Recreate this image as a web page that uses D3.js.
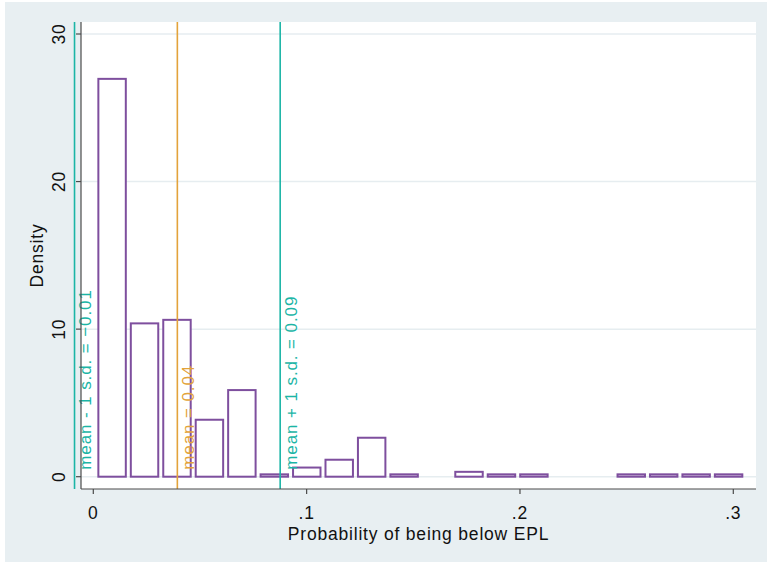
<!DOCTYPE html>
<html>
<head>
<meta charset="utf-8">
<script src="https://cdn.jsdelivr.net/npm/d3@7"></script>
<style>
  html, body { margin: 0; padding: 0; background: #fff; }
  svg text { font-family: "Liberation Sans", Arial, Helvetica, sans-serif; }
</style>
</head>
<body>
<div id="chart"></div>
<script>
// Histogram of the probability of being below EPL (density scale)
const binStart = 0.0012;
const binWidth = 0.01521;
const densities = [26.96, 10.39, 10.63, 3.86, 5.87, 0.16, 0.62, 1.15, 2.64, 0.16,
                   0, 0.33, 0.16, 0.16, 0, 0, 0.16, 0.16, 0.16, 0.16];
const xTicks = [0, 0.1, 0.2, 0.3];
const xTickLabels = ["0", ".1", ".2", ".3"];
const yTicks = [0, 10, 20, 30];
const meanValue = 0.0394;
const sdValue = 0.0482;

const W = 767, H = 562;
const plot = { left: 81, right: 756, top: 22, bottom: 489 };
const purple = "#7e4f9e", orange = "#e3a33a", teal = "#1cb5a6";

const svg = d3.select("#chart").append("svg")
  .attr("width", W).attr("height", H);

// outer graph region and white plot region
svg.append("rect").attr("x", 5).attr("y", 2).attr("width", W - 5).attr("height", H - 2)
  .attr("fill", "#e8eff2");
svg.append("rect").attr("x", plot.left).attr("y", plot.top)
  .attr("width", plot.right - plot.left).attr("height", plot.bottom - plot.top)
  .attr("fill", "#ffffff");

const x = d3.scaleLinear().domain([0, 0.3]).range([93.3, 733.3]);
const y = d3.scaleLinear().domain([0, 30]).range([476.7, 34]);

// horizontal grid
svg.append("g").selectAll("line").data(yTicks).join("line")
  .attr("x1", plot.left).attr("x2", plot.right)
  .attr("y1", d => y(d)).attr("y2", d => y(d))
  .attr("stroke", "#e6edf0").attr("stroke-width", 1.5);

// bars
const bins = densities.map((d, i) => ({ x0: binStart + i * binWidth, x1: binStart + (i + 1) * binWidth, d }));
const inset = 2.5;
svg.append("g").selectAll("rect").data(bins.filter(b => b.d > 0)).join("rect")
  .attr("x", b => x(b.x0) + inset)
  .attr("width", b => x(b.x1) - x(b.x0) - 2 * inset)
  .attr("y", b => y(b.d))
  .attr("height", b => y(0) - y(b.d))
  .attr("fill", "#ffffff")
  .attr("stroke", purple).attr("stroke-width", 2);

// reference lines: mean and mean +/- 1 s.d.
const fmt = d3.format(".2f");
const refs = [
  { v: meanValue - sdValue, label: "mean - 1 s.d. = " + fmt(meanValue - sdValue), color: teal },
  { v: meanValue, label: "mean = " + fmt(meanValue), color: orange },
  { v: meanValue + sdValue, label: "mean + 1 s.d. = " + fmt(meanValue + sdValue), color: teal }
];
svg.append("g").selectAll("line").data(refs).join("line")
  .attr("x1", r => x(r.v)).attr("x2", r => x(r.v))
  .attr("y1", plot.top).attr("y2", plot.bottom)
  .attr("stroke", r => r.color).attr("stroke-width", 1.6);
svg.append("g").selectAll("text").data(refs).join("text")
  .attr("transform", r => `translate(${x(r.v) + 16.5},${y(0) - 7}) rotate(-90)`)
  .attr("font-size", 17).attr("letter-spacing", 0.9)
  .attr("fill", r => r.color)
  .text(r => r.label);

// axes
const axisColor = "#4a4a4a";
svg.append("line").attr("x1", plot.left).attr("x2", plot.left)
  .attr("y1", plot.top).attr("y2", plot.bottom).attr("stroke", axisColor).attr("stroke-width", 1.2);
svg.append("line").attr("x1", plot.left).attr("x2", plot.right)
  .attr("y1", plot.bottom).attr("y2", plot.bottom).attr("stroke", axisColor).attr("stroke-width", 1.2);

const yAxis = svg.append("g");
yAxis.selectAll("line").data(yTicks).join("line")
  .attr("x1", plot.left - 5).attr("x2", plot.left)
  .attr("y1", d => y(d)).attr("y2", d => y(d))
  .attr("stroke", axisColor).attr("stroke-width", 1.2);
yAxis.selectAll("text").data(yTicks).join("text")
  .attr("transform", d => `translate(64.5,${y(d)}) rotate(-90)`)
  .attr("text-anchor", "middle").attr("font-size", 17.5).attr("letter-spacing", 0.8)
  .attr("fill", "#111").text(d => d);

const xAxis = svg.append("g");
xAxis.selectAll("line").data(xTicks).join("line")
  .attr("x1", d => x(d)).attr("x2", d => x(d))
  .attr("y1", plot.bottom).attr("y2", plot.bottom + 5)
  .attr("stroke", axisColor).attr("stroke-width", 1.2);
xAxis.selectAll("text").data(xTicks).join("text")
  .attr("x", d => x(d)).attr("y", 518.5)
  .attr("text-anchor", "middle").attr("font-size", 17.5).attr("letter-spacing", 0.8)
  .attr("fill", "#111").text((d, i) => xTickLabels[i]);

// axis titles
svg.append("text").attr("x", (plot.left + plot.right) / 2).attr("y", 540)
  .attr("text-anchor", "middle").attr("font-size", 17.5).attr("letter-spacing", 0.8)
  .attr("fill", "#111").text("Probability of being below EPL");
svg.append("text").attr("transform", `translate(42.5,${(plot.top + plot.bottom) / 2}) rotate(-90)`)
  .attr("text-anchor", "middle").attr("font-size", 17.5).attr("letter-spacing", 0.8)
  .attr("fill", "#111").text("Density");
</script>
</body>
</html>
